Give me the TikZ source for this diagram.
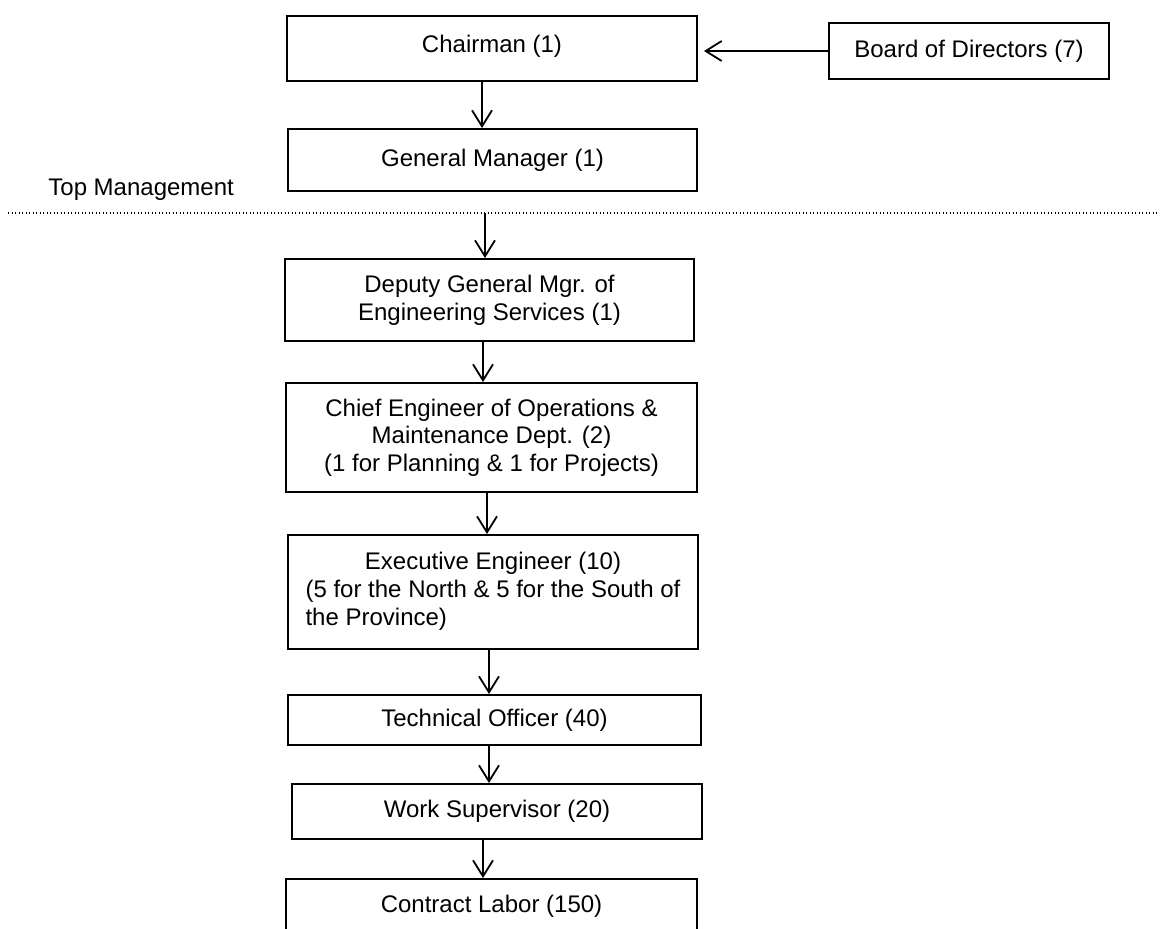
\documentclass[tikz,border=0pt]{standalone}
\usepackage{fontspec}
\setmainfont{Liberation Sans}
\usetikzlibrary{arrows.meta}
\tikzset{
  >={Straight Barb[length=8pt,width=10pt]},
  post/.style={draw,line width=1pt,align=center,font=\fontsize{12}{13.8}\selectfont,inner sep=2pt},
  down/.style={->,line width=0.9pt},
  cutline/.style={line width=0.6pt,dash pattern=on 0.6pt off 1.15pt},
  tier/.style={font=\fontsize{12}{13.8}\selectfont,inner sep=0pt,anchor=west}
}

\begin{document}
\begin{tikzpicture}[x=0.5pt,y=-0.5pt]
  \useasboundingbox (0,0) rectangle (1160,928);
  % top of the chart
  \node[post,minimum width=205pt,minimum height=32.5pt,text depth=5pt] (chair) at (492,48.5) {Chairman (1)};
  \node[post,minimum width=140pt,minimum height=28pt] (board) at (969,51) {Board of Directors (7)};
  \node[post,minimum width=204.5pt,minimum height=31pt] (gm) at (492.5,160) {General Manager (1)};
  \node[tier] (top) at (48,190) {Top Management};
  \coordinate (cutL) at (8,213);
  \coordinate (cutR) at (1160,213);
  \draw[cutline] (cutL) -- (cutR);
  % engineering line
  \node[post,minimum width=204.5pt,minimum height=41pt] (dep) at (489.5,300) {Deputy General Mgr. of\\Engineering Services (1)};
  \node[post,minimum width=205.5pt,minimum height=54.5pt] (chief) at (491.5,437.5) {Chief Engineer of Operations \&\\Maintenance Dept. (2)\\(1 for Planning \& 1 for Projects)};
  \node[post,minimum width=205pt,minimum height=57pt] (exec) at (493,592) {%
    \begin{tabular}{@{}l@{}}
      \multicolumn{1}{@{}c@{}}{Executive Engineer (10)}\\
      (5 for the North \& 5 for the South of\\
      the Province)
    \end{tabular}};
  \node[post,minimum width=206.5pt,minimum height=25pt] (tech) at (494.5,720) {Technical Officer (40)};
  \node[post,minimum width=205pt,minimum height=27.5pt] (ws) at (497,811.5) {Work Supervisor (20)};
  \node[post,minimum width=205.5pt,minimum height=27.5pt] (cl) at (491.5,906.5) {Contract Labor (150)};
  % reporting lines
  \draw[->,line width=0.9pt,shorten >=3pt] (board.west) -- (chair.east |- board.west);
  \draw[down] (chair.south -| 482,0) -- (gm.north -| 482,0);
  \draw[down] (cutL -| 485,0) -- (dep.north -| 485,0);
  \draw[down] (dep.south -| 483,0) -- (chief.north -| 483,0);
  \draw[down] (chief.south -| 487,0) -- (exec.north -| 487,0);
  \draw[down] (exec.south -| 489,0) -- (tech.north -| 489,0);
  \draw[down] (tech.south -| 489,0) -- (ws.north -| 489,0);
  \draw[down] (ws.south -| 483,0) -- (cl.north -| 483,0);
\end{tikzpicture}
\end{document}
